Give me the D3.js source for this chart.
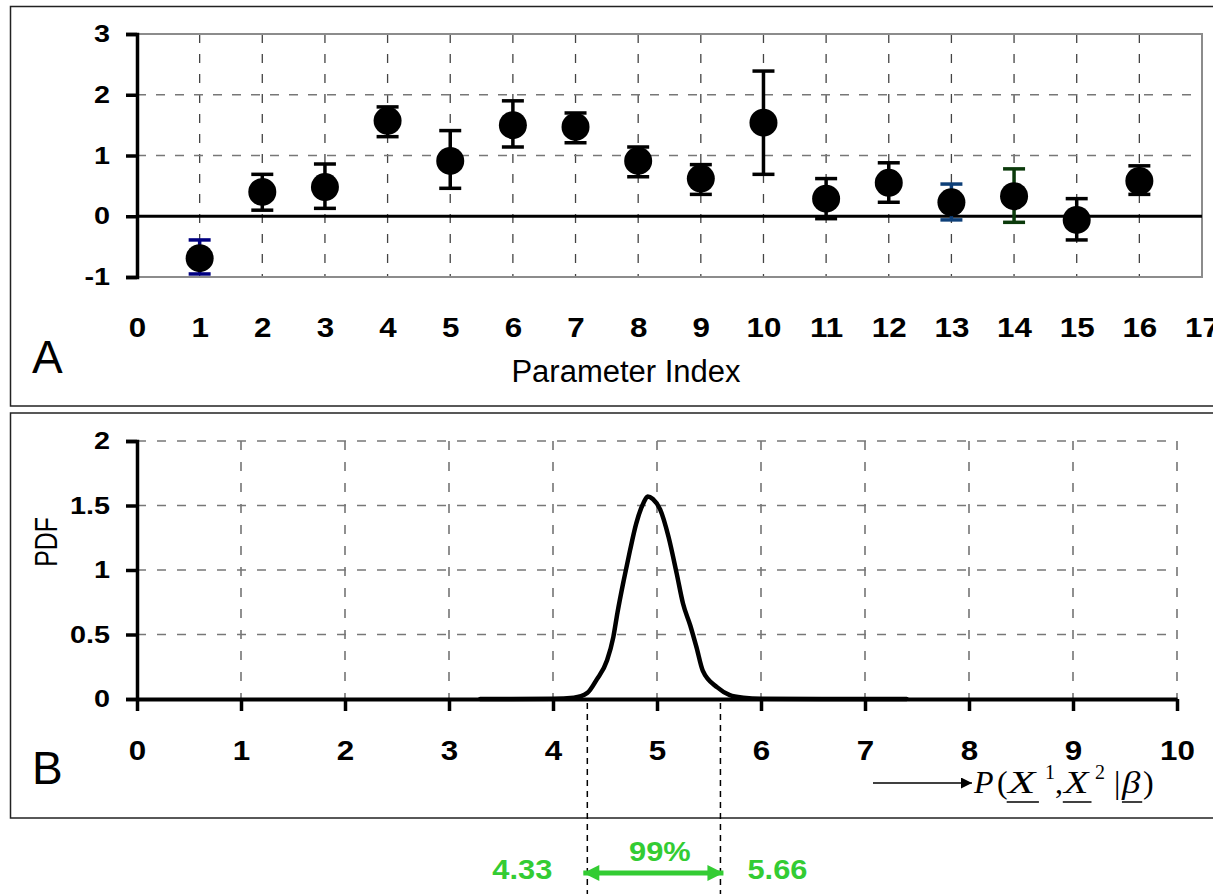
<!DOCTYPE html>
<html>
<head>
<meta charset="utf-8">
<script src="https://cdn.jsdelivr.net/npm/d3@7"></script>
<style>
  body { margin: 0; background: #fff; }
  svg { display: block; font-family: Arial, "Liberation Sans", sans-serif; }
</style>
</head>
<body>
<svg id="chart" width="1213" height="894"></svg>
<script>
// Panel A: parameter estimates with error bars
const paramIndex = [1, 2, 3, 4, 5, 6, 7, 8, 9, 10, 11, 12, 13, 14, 15, 16]
const estimates = [-0.69, 0.40, 0.48, 1.57, 0.91, 1.50, 1.47, 0.91, 0.62, 1.54, 0.29, 0.55, 0.23, 0.33, -0.06, 0.58]
const upperBound = [-0.39, 0.69, 0.86, 1.80, 1.41, 1.90, 1.70, 1.14, 0.85, 2.39, 0.62, 0.88, 0.53, 0.78, 0.29, 0.83]
const lowerBound = [-0.95, 0.10, 0.13, 1.31, 0.46, 1.14, 1.21, 0.65, 0.36, 0.69, -0.04, 0.23, -0.06, -0.10, -0.39, 0.36]
const barColors = ['#000080', '#000', '#000', '#000', '#000', '#000', '#000', '#000',
  '#000', '#000', '#000', '#000', '#0d3f78', '#0b3a0b', '#000', '#000']
const xTicksA = d3.range(0, 18)
const yTicksA = [-1, 0, 1, 2, 3]

// Panel B: probability density
const pdfX = [3.3, 4.0, 4.2, 4.33, 4.42, 4.52, 4.58, 4.62, 4.68, 4.74, 4.80, 4.87, 4.91, 4.96,
  5.03, 5.11, 5.19, 5.25, 5.32, 5.38, 5.44, 5.58, 5.70, 5.83, 6.0, 7.4]
const pdfY = [0, 0.002, 0.01, 0.047, 0.15, 0.30, 0.48, 0.67, 0.92, 1.15, 1.36, 1.52, 1.57, 1.55,
  1.47, 1.26, 0.97, 0.74, 0.57, 0.40, 0.22, 0.09, 0.03, 0.01, 0.002, 0]
const xTicksB = d3.range(0, 11)
const yTicksB = [0, 0.5, 1, 1.5, 2]
const ciBounds = [4.33, 5.61]
const ciLabels = ['4.33', '5.66']
const ciText = '99%'

const svg = d3.select('#chart')
const green = '#33cc33'
const fontSans = 'Arial, "Liberation Sans", sans-serif'

// tick labels in the source are drawn a bit wider than plain Arial
function styleTicks(sel, size, stretch, x) {
  sel.selectAll('text')
    .attr('font-size', size).attr('font-weight', 'bold')
    .attr('font-family', fontSans).attr('fill', '#000')
    .attr('transform', `scale(${stretch},1)`)
  if (x !== undefined) sel.selectAll('text').attr('x', x / stretch)
}

// ---------- panel frames ----------
svg.append('rect').attr('x', 10.5).attr('y', 6.5).attr('width', 1240).attr('height', 399.5)
  .attr('fill', 'none').attr('stroke', '#222').attr('stroke-width', 1.5)
svg.append('rect').attr('x', 10.5).attr('y', 413).attr('width', 1240).attr('height', 405)
  .attr('fill', 'none').attr('stroke', '#222').attr('stroke-width', 1.5)

// ---------- Panel A ----------
const xA = d3.scaleLinear().domain([0, 17]).range([137, 1202])
const yA = d3.scaleLinear().domain([-1, 3]).range([277, 34])
const gA = svg.append('g')

// grid
gA.append('g').selectAll('line')
  .data(d3.range(1, 17))
  .join('line')
  .attr('x1', d => xA(d)).attr('x2', d => xA(d))
  .attr('y1', yA(3)).attr('y2', yA(-1))
  .attr('stroke', '#444').attr('stroke-width', 1.3).attr('stroke-dasharray', '9,11')
gA.append('g').selectAll('line')
  .data([1, 2])
  .join('line')
  .attr('x1', xA(0)).attr('x2', xA(17))
  .attr('y1', d => yA(d)).attr('y2', d => yA(d))
  .attr('stroke', '#777').attr('stroke-width', 1.5).attr('stroke-dasharray', '9,10')

// plot-area border (gray)
gA.append('path')
  .attr('d', `M${xA(0)},${yA(3)}H${xA(17)}V${yA(-1)}H${xA(0)}`)
  .attr('fill', 'none').attr('stroke', '#8c8c8c').attr('stroke-width', 2)

// zero line
gA.append('line')
  .attr('x1', xA(0)).attr('x2', xA(17)).attr('y1', yA(0)).attr('y2', yA(0))
  .attr('stroke', '#000').attr('stroke-width', 3)

// y axis
const yAxisA = gA.append('g').attr('transform', `translate(${xA(0)},0)`)
  .call(d3.axisLeft(yA).tickValues(yTicksA).tickSize(11).tickPadding(15).tickFormat(d => String(d)))
yAxisA.select('.domain').attr('stroke-width', 3.5)
yAxisA.selectAll('.tick line').attr('stroke-width', 3.5)
styleTicks(yAxisA, 24, 1.2, -27)

// x labels (no axis line)
const xAxisA = gA.append('g').attr('transform', `translate(0,${yA(-1)})`)
  .call(d3.axisBottom(xA).tickValues(xTicksA).tickSize(0).tickFormat(d => String(d)))
xAxisA.select('.domain').remove()
xAxisA.selectAll('text').attr('y', 60).attr('dy', 0)
styleTicks(xAxisA, 28, 1.12)

gA.append('text').attr('x', 626).attr('y', 382).attr('text-anchor', 'middle')
  .attr('font-size', 31).text('Parameter Index')
gA.append('text').attr('x', 32).attr('y', 373).attr('font-size', 46).text('A')

// error bars
const pts = paramIndex.map((p, i) => ({ p, v: estimates[i], hi: upperBound[i], lo: lowerBound[i], c: barColors[i] }))
const bars = gA.append('g').selectAll('g').data(pts).join('g').attr('stroke', d => d.c).attr('stroke-width', 3.5)
bars.append('line')
  .attr('x1', d => xA(d.p)).attr('x2', d => xA(d.p))
  .attr('y1', d => yA(d.hi)).attr('y2', d => yA(d.lo))
bars.selectAll('line.cap').data(d => [[d.p, d.hi], [d.p, d.lo]]).join('line')
  .attr('class', 'cap')
  .attr('x1', d => xA(d[0]) - 11).attr('x2', d => xA(d[0]) + 11)
  .attr('y1', d => yA(d[1])).attr('y2', d => yA(d[1]))
gA.append('g').selectAll('circle').data(pts).join('circle')
  .attr('cx', d => xA(d.p)).attr('cy', d => yA(d.v)).attr('r', 14).attr('fill', '#000')

// ---------- Panel B ----------
const xB = d3.scaleLinear().domain([0, 10]).range([137, 1177])
const yB = d3.scaleLinear().domain([0, 2]).range([699, 441])
const gB = svg.append('g')

gB.append('g').selectAll('line')
  .data(d3.range(1, 11))
  .join('line')
  .attr('x1', d => xB(d)).attr('x2', d => xB(d))
  .attr('y1', yB(2)).attr('y2', yB(0))
  .attr('stroke', '#555').attr('stroke-width', 1.3).attr('stroke-dasharray', '9,12')
gB.append('g').selectAll('line')
  .data([0.5, 1, 1.5, 2])
  .join('line')
  .attr('x1', xB(0)).attr('x2', xB(10))
  .attr('y1', d => yB(d)).attr('y2', d => yB(d))
  .attr('stroke', '#777').attr('stroke-width', 1.5).attr('stroke-dasharray', '9,11')

const yAxisB = gB.append('g').attr('transform', `translate(${xB(0)},0)`)
  .call(d3.axisLeft(yB).tickValues(yTicksB).tickSize(11).tickPadding(15).tickFormat(d => String(d)))
yAxisB.select('.domain').attr('stroke-width', 3.5)
yAxisB.selectAll('.tick line').attr('stroke-width', 3.5)
styleTicks(yAxisB, 24, 1.2, -27)

const xAxisB = gB.append('g').attr('transform', `translate(0,${yB(0)})`)
  .call(d3.axisBottom(xB).tickValues(xTicksB).tickSize(12).tickSizeOuter(0).tickFormat(d => String(d)))
xAxisB.select('.domain').attr('stroke-width', 4)
xAxisB.selectAll('.tick line').attr('stroke-width', 3.5)
xAxisB.selectAll('text').attr('y', 61).attr('dy', 0)
styleTicks(xAxisB, 28, 1.12)

gB.append('text')
  .attr('transform', 'translate(57,542) rotate(-90) scale(0.8,1)')
  .attr('text-anchor', 'middle').attr('font-size', 31).text('PDF')
gB.append('text').attr('x', 32).attr('y', 784).attr('font-size', 46).text('B')

// density curve
const line = d3.line().x(d => xB(d[0])).y(d => yB(d[1])).curve(d3.curveMonotoneX)
gB.append('path')
  .datum(pdfX.map((x, i) => [x, pdfY[i]]))
  .attr('d', line)
  .attr('fill', 'none').attr('stroke', '#000').attr('stroke-width', 4.5)
  .attr('stroke-linejoin', 'round').attr('stroke-linecap', 'round')

// formula with arrow
const defs = svg.append('defs')
defs.append('marker').attr('id', 'blackHead').attr('viewBox', '0 0 10 10')
  .attr('refX', 10).attr('refY', 5).attr('markerWidth', 16).attr('markerHeight', 11)
  .attr('markerUnits', 'userSpaceOnUse').attr('orient', 'auto')
  .append('path').attr('d', 'M0,0L10,5L0,10Z').attr('fill', '#000')
gB.append('line').attr('x1', 873).attr('x2', 972).attr('y1', 783).attr('y2', 783)
  .attr('stroke', '#000').attr('stroke-width', 1.5).attr('marker-end', 'url(#blackHead)')

// each piece of P(X1, X2 | beta) placed on its own, the equation object is stretched
const parts = [
  { t: 'P', x: 974, it: true, sx: 1 },
  { t: '(', x: 997, sx: 1 },
  { t: 'X', x: 1008, it: true, u: true, sx: 1.4 },
  { t: '1', x: 1045, sup: true, sx: 1 },
  { t: ',', x: 1055, sx: 1 },
  { t: 'X', x: 1064, it: true, u: true, sx: 1.25 },
  { t: '2', x: 1095, sup: true, sx: 1 },
  { t: '|', x: 1114, sx: 1 },
  { t: 'β', x: 1122, it: true, u: true, sx: 1.15 },
  { t: ')', x: 1143, sx: 1 }
]
const formula = gB.append('g')
  .attr('font-family', '"Liberation Serif", "Times New Roman", serif')
formula.selectAll('text').data(parts).join('text')
  .attr('transform', d => `translate(${d.x},${d.sup ? 779 : 793}) scale(${d.sx},1)`)
  .attr('font-size', d => d.sup ? 20 : 32)
  .attr('font-style', d => d.it ? 'italic' : 'normal')
  .text(d => d.t)
  .each(function (d) {
    if (!d.u) return
    const b = this.getBBox()
    gB.append('line').attr('x1', d.x + b.x * d.sx + 1).attr('x2', d.x + (b.x + b.width) * d.sx + 1)
      .attr('y1', 802).attr('y2', 802).attr('stroke', '#000').attr('stroke-width', 1.5)
  })

// ---------- 99% interval annotation ----------
const gC = svg.append('g')
gC.selectAll('line.ci').data(ciBounds).join('line').attr('class', 'ci')
  .attr('x1', d => xB(d)).attr('x2', d => xB(d)).attr('y1', 703).attr('y2', 894)
  .attr('stroke', '#000').attr('stroke-width', 1.5).attr('stroke-dasharray', '6,5')

defs.append('marker').attr('id', 'greenHead').attr('viewBox', '0 0 10 10')
  .attr('refX', 10).attr('refY', 5).attr('markerWidth', 18).attr('markerHeight', 16)
  .attr('markerUnits', 'userSpaceOnUse').attr('orient', 'auto-start-reverse')
  .append('path').attr('d', 'M0,0L10,5L0,10Z').attr('fill', green)
gC.append('line')
  .attr('x1', xB(ciBounds[0]) - 4).attr('x2', xB(ciBounds[1]) + 3).attr('y1', 873).attr('y2', 873)
  .attr('stroke', green).attr('stroke-width', 5)
  .attr('marker-start', 'url(#greenHead)').attr('marker-end', 'url(#greenHead)')

const midX = d3.mean(ciBounds, d => xB(d)) + 6
gC.append('text').attr('transform', `translate(${midX},861) scale(1.1,1)`).attr('text-anchor', 'middle')
  .attr('font-size', 28).attr('font-weight', 'bold').attr('fill', green).text(ciText)
gC.selectAll('text.lab').data(ciLabels).join('text').attr('class', 'lab')
  .attr('transform', (d, i) => `translate(${i === 0 ? xB(ciBounds[0]) - 65 : xB(ciBounds[1]) + 57},879) scale(1.1,1)`)
  .attr('text-anchor', 'middle')
  .attr('font-size', 28).attr('font-weight', 'bold').attr('fill', green).text(d => d)
</script>
</body>
</html>
